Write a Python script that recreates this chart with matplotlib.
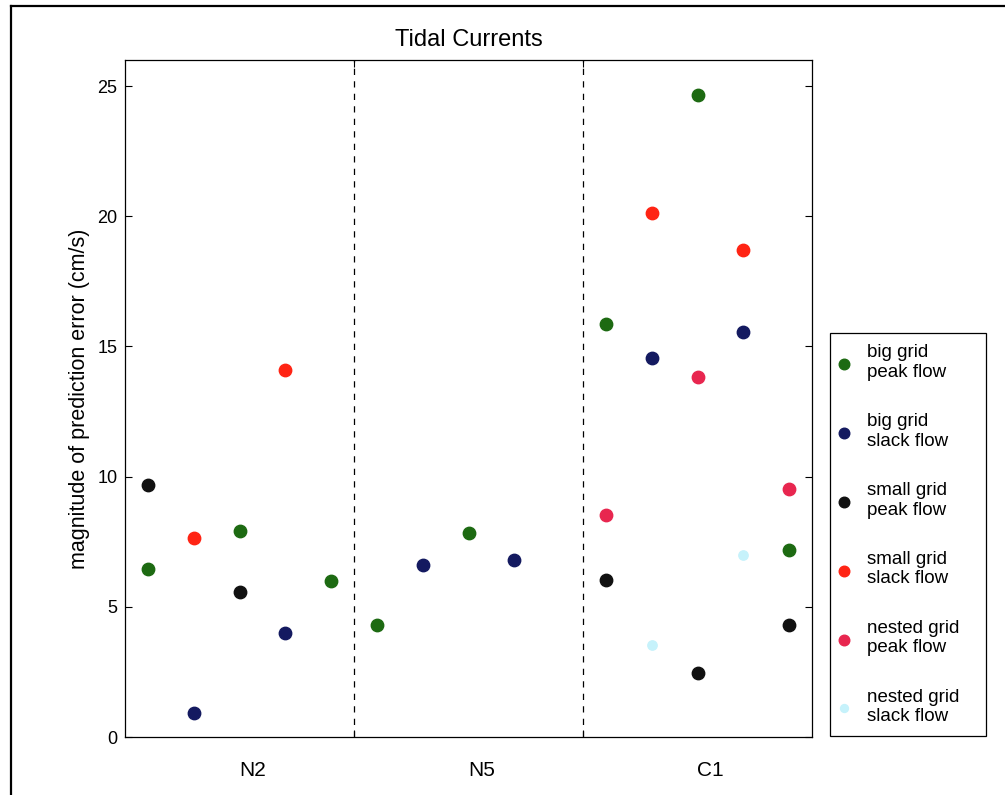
import matplotlib.pyplot as plt
from matplotlib.lines import Line2D

plt.rcParams['font.family'] = ['Liberation Sans', 'DejaVu Sans']

# group labels (MATLAB-style left-aligned text at these x)
groups = ['N2', 'N5', 'C1']
group_x = [3, 8, 13]
dividers = [5.5, 10.5]

# big grid, peak flow
bp_x = [1, 3, 5, 6, 8, 11, 13, 15]
bp_y = [6.47, 7.90, 5.98, 4.32, 7.83, 15.85, 24.66, 7.18]
# big grid, slack flow
bs_x = [2, 4, 7, 9, 12, 14]
bs_y = [0.91, 4.01, 6.62, 6.78, 14.57, 15.57]
# small grid, peak flow
sp_x = [1, 3, 11, 13, 15]
sp_y = [9.69, 5.57, 6.04, 2.44, 4.30]
# small grid, slack flow
ss_x = [2, 4, 12, 14]
ss_y = [7.64, 14.09, 20.13, 18.70]
# nested grid, peak flow
np_x = [11, 13, 15]
np_y = [8.53, 13.84, 9.54]
# nested grid, slack flow
ns_x = [12, 14]
ns_y = [3.52, 7.00]

fig = plt.figure(figsize=(10.05, 7.95), dpi=100)
ax = fig.add_axes([125/1005, 1-737/795, (812-125)/1005, (737-60)/795])

h1 = ax.scatter(bp_x, bp_y, s=80, color='#1d6a12', label='big grid\npeak flow')
h2 = ax.scatter(bs_x, bs_y, s=80, color='#141a60', label='big grid\nslack flow')
h3 = ax.scatter(sp_x, sp_y, s=80, color='#111111', label='small grid\npeak flow')
h4 = ax.scatter(ss_x, ss_y, s=80, color='#ff2414', label='small grid\nslack flow')
h5 = ax.scatter(np_x, np_y, s=80, color='#e8264f', label='nested grid\npeak flow')
h6 = ax.scatter(ns_x, ns_y, s=45, color='#c6f2fb', label='nested grid\nslack flow')

for d in dividers:
	ax.axvline(d, color='black', lw=0.9, ls=(0, (5, 5)))

ax.set_xlim(0.5, 15.5)
ax.set_ylim(0, 26)
ax.set_yticks([0, 5, 10, 15, 20, 25])
ax.set_xticks(dividers)
ax.set_xticklabels([])
ax.tick_params(direction='in', length=5, width=0.8, top=True, right=True,
	labelsize=13, pad=5.5)
for sp in ax.spines.values():
	sp.set_linewidth(0.9)

for g, gx in zip(groups, group_x):
	ax.text(gx, -1.27, g, ha='left', va='center', fontsize=15)

ax.set_title('Tidal Currents', fontsize=17, pad=10)
ax.set_ylabel('magnitude of prediction error (cm/s)', fontsize=15.5, labelpad=5)

leg = fig.legend(handles=[h1, h2, h3, h4, h5, h6], loc='upper left',
	bbox_to_anchor=(830/1005, 1-333/795, 156/1005, 0.0), mode='expand',
	borderaxespad=0, fontsize=13.5, labelspacing=1.72, borderpad=0.6,
	handlelength=0.3, handletextpad=1.05, fancybox=False, framealpha=1,
	edgecolor='black', markerscale=0.85)
leg.get_frame().set_linewidth(0.9)

# scanned page frame
fig.add_artist(Line2D([11/1005, 11/1005], [0, 1-6/795], color='black', lw=1.6))
fig.add_artist(Line2D([11/1005, 1], [1-6/795, 1-6/795], color='black', lw=1.6))

fig.savefig('out.png', dpi=100)
